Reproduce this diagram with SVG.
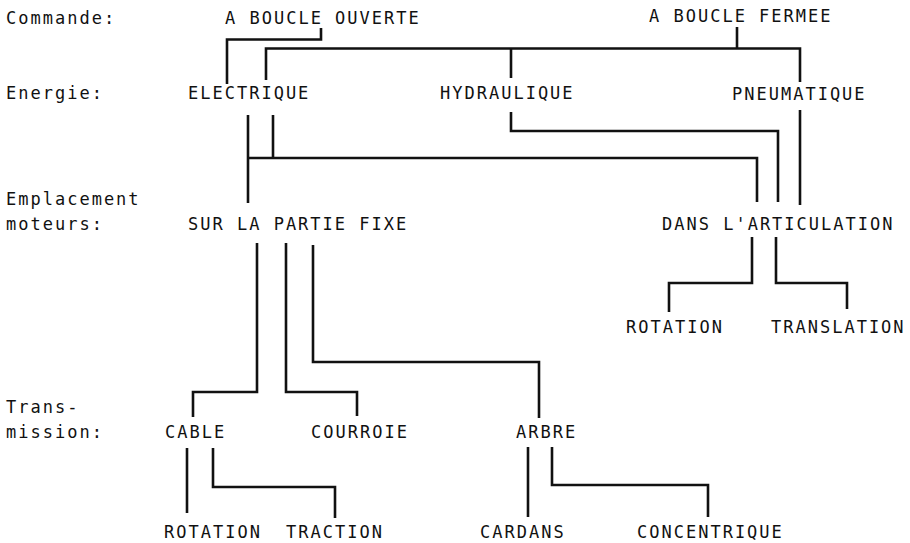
<svg xmlns="http://www.w3.org/2000/svg" width="910" height="543" viewBox="0 0 910 543">
<style>
text{font-family:"DejaVu Sans Mono","Liberation Mono",monospace;font-size:17px;letter-spacing:2px;fill:#111}
.c path{fill:none;stroke:#111;stroke-width:2.6;stroke-linejoin:miter;stroke-linecap:butt}
</style>
<rect width="910" height="543" fill="#fff"/>
<g id="labels">
<text x="6" y="24">Commande:</text>
<text x="6" y="99">Energie:</text>
<text x="6" y="205">Emplacement</text>
<text x="6" y="230">moteurs:</text>
<text x="6" y="413">Trans-</text>
<text x="6" y="438">mission:</text>
</g>
<g id="n-boucle-ouverte"><text x="225" y="24">A BOUCLE OUVERTE</text></g>
<g id="n-boucle-fermee"><text x="649" y="22">A BOUCLE FERMEE</text></g>
<g id="n-electrique"><text x="188" y="99">ELECTRIQUE</text></g>
<g id="n-hydraulique"><text x="440" y="99">HYDRAULIQUE</text></g>
<g id="n-pneumatique"><text x="732" y="100">PNEUMATIQUE</text></g>
<g id="n-partie-fixe"><text x="188" y="230">SUR LA PARTIE FIXE</text></g>
<g id="n-articulation"><text x="662" y="230">DANS L'ARTICULATION</text></g>
<g id="n-rotation-art"><text x="626" y="333">ROTATION</text></g>
<g id="n-translation"><text x="771" y="333">TRANSLATION</text></g>
<g id="n-cable"><text x="165" y="438">CABLE</text></g>
<g id="n-courroie"><text x="311" y="438">COURROIE</text></g>
<g id="n-arbre"><text x="516" y="438">ARBRE</text></g>
<g id="n-rotation-cable"><text x="164" y="538">ROTATION</text></g>
<g id="n-traction"><text x="286" y="538">TRACTION</text></g>
<g id="n-cardans"><text x="480" y="538">CARDANS</text></g>
<g id="n-concentrique"><text x="637" y="538">CONCENTRIQUE</text></g>
<g id="connectors" class="c">
<path d="M321,28 V39.5 H227 V84"/>
<path d="M737,27 V48.5"/>
<path d="M266,80 V48.5 H800 V82"/>
<path d="M511,48.5 V78"/>
<path d="M248,115 V203"/>
<path d="M273,115 V158"/>
<path d="M248,158 H757 V202"/>
<path d="M511,112 V131 H778 V202"/>
<path d="M800,110 V205"/>
<path d="M752,237 V283 H669 V312"/>
<path d="M776,237 V283 H847 V309"/>
<path d="M257,243 V392 H193 V417"/>
<path d="M286,243 V392 H357 V416"/>
<path d="M313,245 V362 H539 V418"/>
<path d="M187,448 V513"/>
<path d="M213,448 V487 H335 V518"/>
<path d="M528,447 V517"/>
<path d="M552,447 V485 H708 V517"/>
</g>
</svg>
